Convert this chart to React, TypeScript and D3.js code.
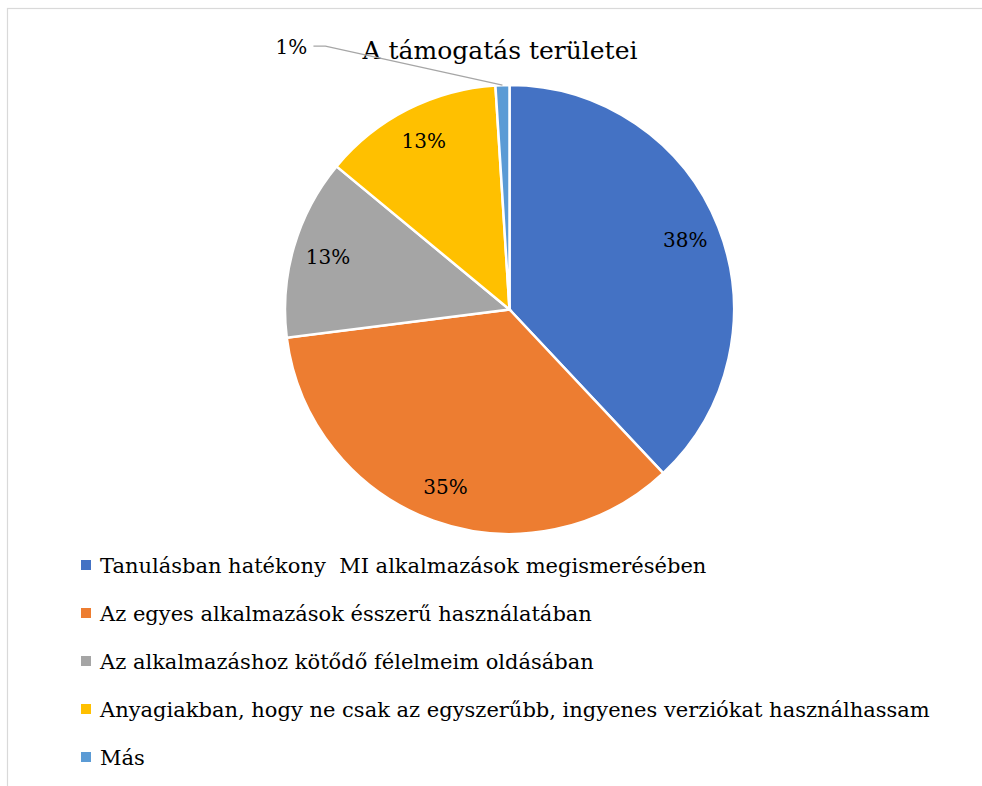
import React from "react";
import * as d3 from "d3";

const categories = [
  "Tanulásban hatékony  MI alkalmazások megismerésében",
  "Az egyes alkalmazások ésszerű használatában",
  "Az alkalmazáshoz kötődő félelmeim oldásában",
  "Anyagiakban, hogy ne csak az egyszerűbb, ingyenes verziókat használhassam",
  "Más",
];
const values = [38, 35, 13, 13, 1];
const colors = ["#4472C4", "#ED7D31", "#A5A5A5", "#FFC000", "#5B9BD5"];
const title = "A támogatás területei";

const W = 982;
const H = 786;
const FONT = "'DejaVu Serif', 'Liberation Serif', serif";

export default function App() {
  const cx = 509.5;
  const cy = 309.5;
  const r = 224.5;
  const labelR = 189;
  const total = d3.sum(values);
  const pie = d3.pie<number>().sort(null).value((d) => d)(values);
  const arc = d3.arc<d3.PieArcDatum<number>>().innerRadius(0).outerRadius(r);
  const fmt = (v: number) => `${Math.round((v / total) * 100)}%`;

  const legendY0 = 573;
  const legendStep = 48;

  return (
    <svg
      width={W}
      height={H}
      style={{ position: "absolute", left: 0, top: 0, background: "#fff" }}
    >
      <rect x={7.5} y={8.5} width={W + 20} height={H + 20} fill="#fff" stroke="#d9d9d9" strokeWidth={1.2} />
      <text x={500} y={59} textAnchor="middle" fontFamily={FONT} fontSize={25} fill="#000">
        {title}
      </text>
      <g transform={`translate(${cx},${cy})`}>
        {pie.map((p, i) => (
          <path key={i} d={arc(p) || ""} fill={colors[i]} stroke="#fff" strokeWidth={2.5} />
        ))}
        {pie.map((p, i) => {
          const mid = (p.startAngle + p.endAngle) / 2;
          if (p.value / total < 0.05) {
            const ex = Math.sin(mid) * r;
            const ey = -Math.cos(mid) * r;
            const bx = ex - 177;
            const by = ey - 39;
            return (
              <g key={"l" + i}>
                <polyline
                  points={`${ex},${ey} ${bx},${by} ${bx - 12},${by}`}
                  fill="none"
                  stroke="#a6a6a6"
                  strokeWidth={1.3}
                />
                <text x={bx - 34} y={by + 1} textAnchor="middle" dominantBaseline="central" fontFamily={FONT} fontSize={20} fill="#000">
                  {fmt(p.value)}
                </text>
              </g>
            );
          }
          const x = Math.sin(mid) * labelR;
          const y = -Math.cos(mid) * labelR;
          return (
            <text key={"l" + i} x={x} y={y} textAnchor="middle" dominantBaseline="central" fontFamily={FONT} fontSize={20} fill="#000">
              {fmt(p.value)}
            </text>
          );
        })}
      </g>
      {categories.map((c, i) => (
        <g key={"lg" + i} transform={`translate(0,${legendY0 + i * legendStep})`}>
          <rect x={81} y={-13} width={10} height={10} fill={colors[i]} />
          <text x={100} y={0} fontFamily={FONT} fontSize={21} fill="#000" style={{ whiteSpace: "pre" }}>
            {c}
          </text>
        </g>
      ))}
    </svg>
  );
}
